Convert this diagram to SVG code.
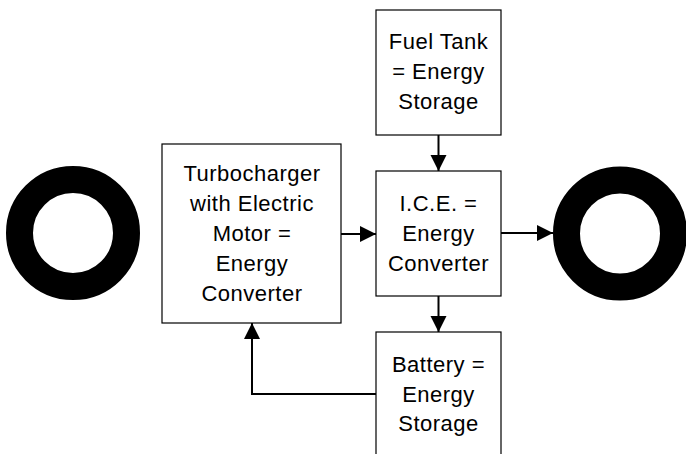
<svg xmlns="http://www.w3.org/2000/svg" width="686" height="454" viewBox="0 0 686 454">
<style>
.box{fill:#fff;stroke:#000;stroke-width:1.2}
.t{font-family:"Liberation Sans",Arial,sans-serif;font-size:22px;letter-spacing:0.5px;fill:#000;text-anchor:middle}
.wheel{fill:none;stroke:#000;stroke-width:27}
.c{fill:none;stroke:#000;stroke-width:2}
</style>
<defs>
<marker id="ah" markerWidth="17" markerHeight="17" refX="16" refY="8" orient="auto" markerUnits="userSpaceOnUse">
<path d="M0,0 L16,8 L0,16 Z" fill="#000"/>
</marker>
</defs>
<rect width="686" height="454" fill="#fff"/>
<g id="wheel-left"><circle class="wheel" cx="73" cy="233" r="53.5"/></g>
<g id="wheel-right"><circle class="wheel" cx="620" cy="233.5" r="53.5"/></g>
<g id="turbo">
<rect class="box" x="162" y="144" width="179" height="179"/>
<text class="t" x="252" y="181">Turbocharger</text>
<text class="t" x="252" y="211">with Electric</text>
<text class="t" x="252" y="241">Motor =</text>
<text class="t" x="252" y="271">Energy</text>
<text class="t" x="252" y="301">Converter</text>
</g>
<g id="fueltank">
<rect class="box" x="376" y="10" width="125" height="125"/>
<text class="t" x="438.5" y="49">Fuel Tank</text>
<text class="t" x="438.5" y="79">= Energy</text>
<text class="t" x="438.5" y="109">Storage</text>
</g>
<g id="ice">
<rect class="box" x="376" y="171" width="125" height="125"/>
<text class="t" x="438.5" y="211">I.C.E. =</text>
<text class="t" x="438.5" y="241">Energy</text>
<text class="t" x="438.5" y="271">Converter</text>
</g>
<g id="battery">
<rect class="box" x="376" y="332" width="125" height="125"/>
<text class="t" x="438.5" y="372">Battery =</text>
<text class="t" x="438.5" y="402">Energy</text>
<text class="t" x="438.5" y="431">Storage</text>
</g>
<g id="connectors">
<line class="c" x1="341" y1="234" x2="376" y2="234" marker-end="url(#ah)"/>
<line class="c" x1="501" y1="233" x2="553" y2="233" marker-end="url(#ah)"/>
<line class="c" x1="438.5" y1="135" x2="438.5" y2="171" marker-end="url(#ah)"/>
<line class="c" x1="438.5" y1="296" x2="438.5" y2="332" marker-end="url(#ah)"/>
<polyline class="c" points="376,394 252,394 252,323" marker-end="url(#ah)"/>
</g>
</svg>
